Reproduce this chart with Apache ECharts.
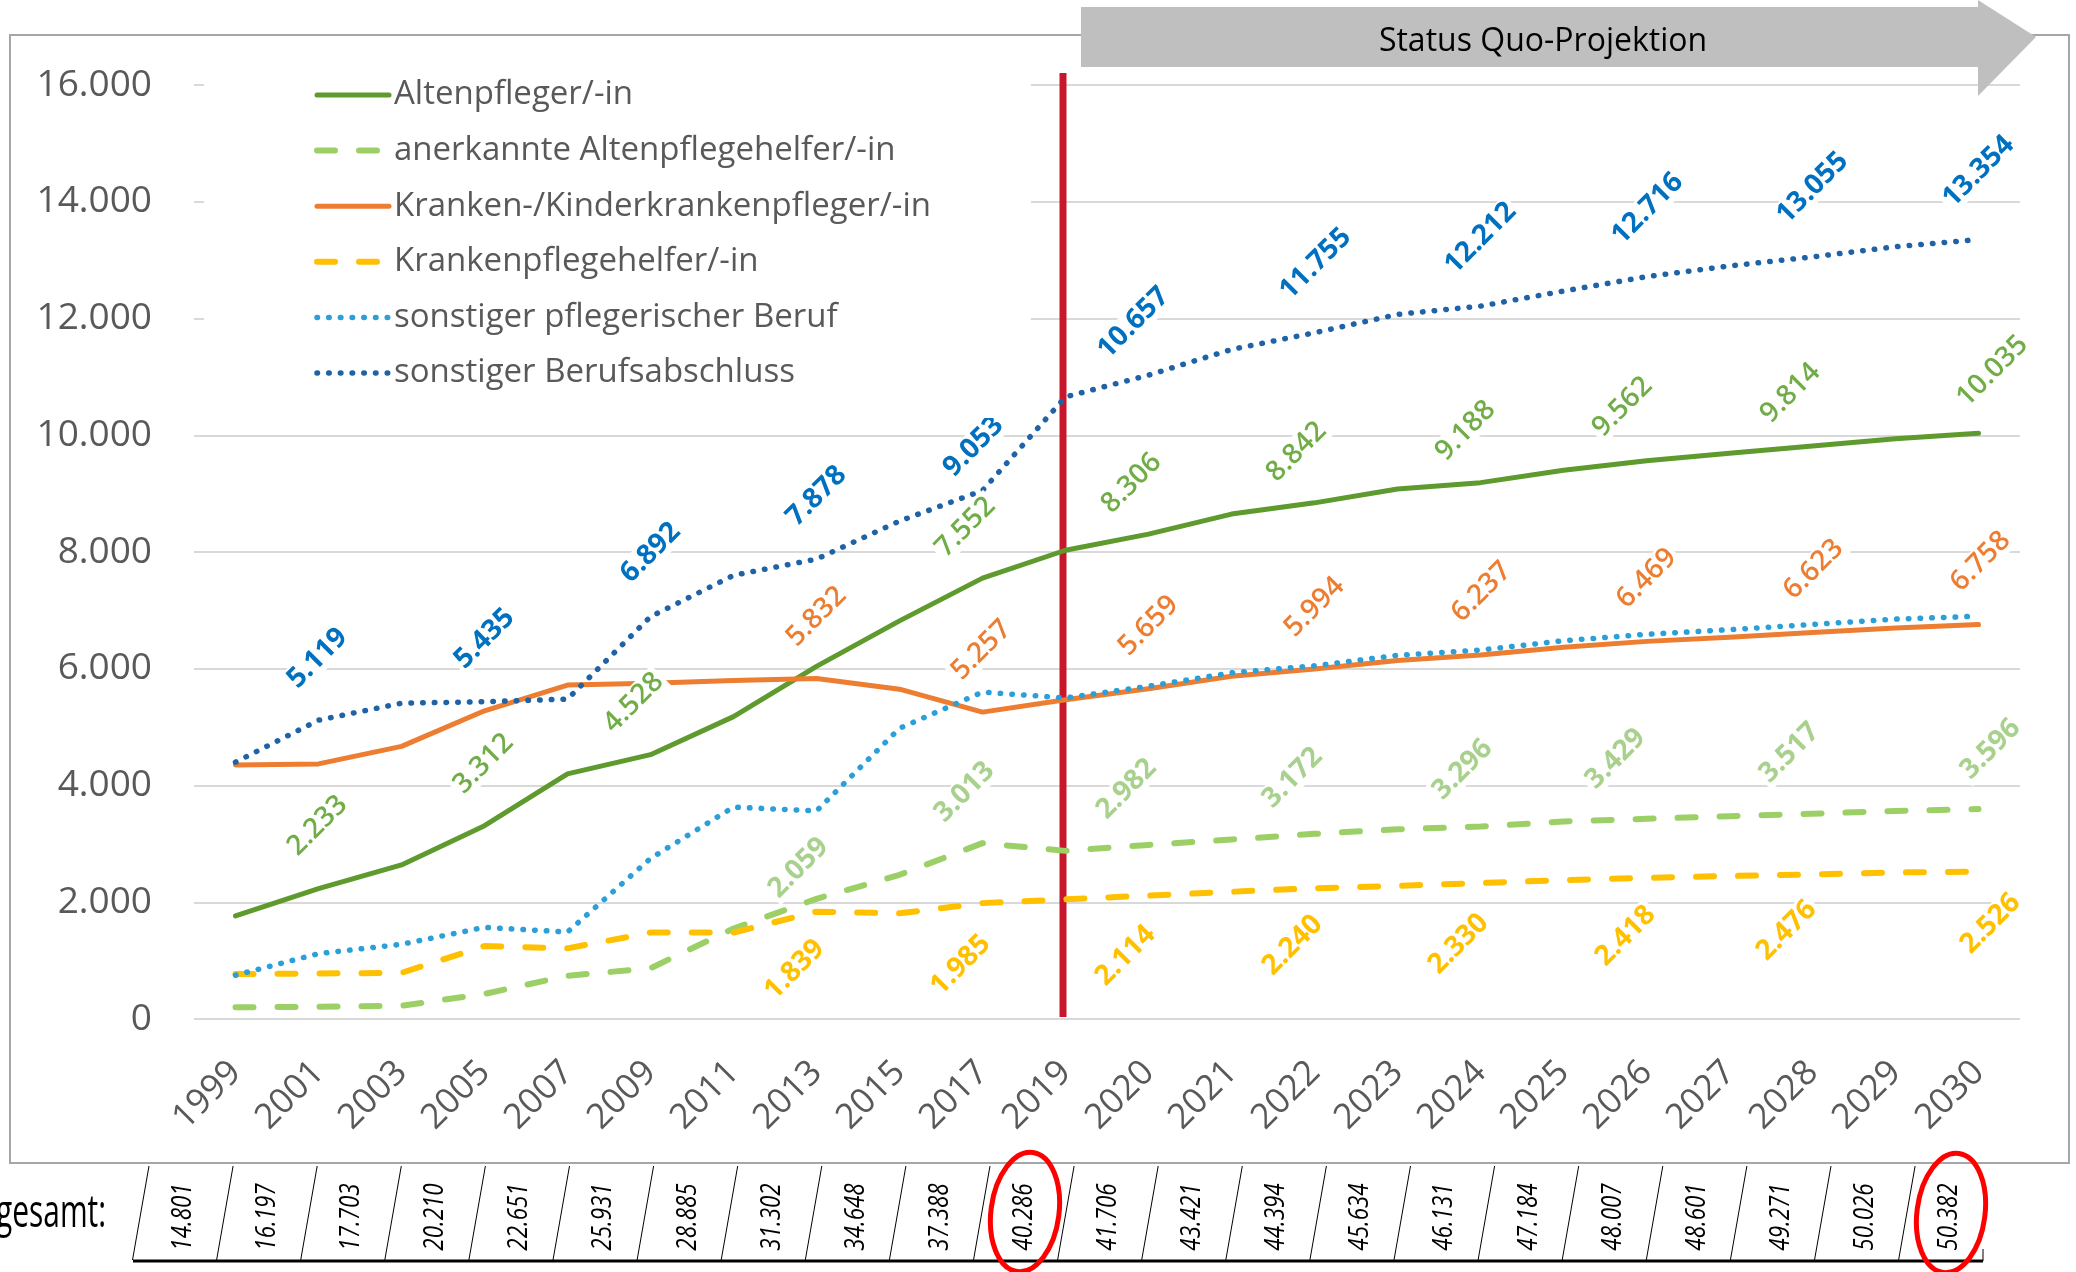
<!DOCTYPE html>
<html>
<head>
<meta charset="utf-8">
<script src="https://cdn.jsdelivr.net/npm/echarts@6/dist/echarts.min.js"></script>
<style>
  html, body { margin: 0; padding: 0; background: #fff; }
  #chart { width: 2076px; height: 1272px; }
</style>
</head>
<body>
<div id="chart"></div>
<script>
// Years on the category axis
const years = ['1999','2001','2003','2005','2007','2009','2011','2013','2015','2017','2019',
               '2020','2021','2022','2023','2024','2025','2026','2027','2028','2029','2030'];

// Employees by qualification
const altenpfleger = [1765, 2233, 2640, 3312, 4200, 4528, 5180, 6040, 6820, 7552, 8030,
                      8306, 8650, 8842, 9080, 9188, 9400, 9562, 9690, 9814, 9940, 10035];
const altenpflegehelfer = [200, 210, 225, 430, 740, 870, 1550, 2059, 2470, 3013, 2880,
                           2982, 3075, 3172, 3250, 3296, 3385, 3429, 3475, 3517, 3565, 3596];
const krankenpfleger = [4350, 4370, 4670, 5280, 5720, 5750, 5800, 5832, 5650, 5257, 5470,
                        5659, 5870, 5994, 6140, 6237, 6370, 6469, 6540, 6623, 6700, 6758];
const krankenpflegehelfer = [770, 780, 790, 1250, 1210, 1480, 1480, 1839, 1810, 1985, 2050,
                             2114, 2180, 2240, 2280, 2330, 2380, 2418, 2450, 2476, 2510, 2526];
const sonstigerPflegerisch = [750, 1120, 1280, 1570, 1490, 2750, 3630, 3565, 4980, 5600, 5500,
                              5700, 5930, 6050, 6230, 6320, 6480, 6590, 6670, 6760, 6850, 6900];
const sonstigerAbschluss = [4400, 5119, 5410, 5435, 5480, 6892, 7600, 7878, 8530, 9053, 10657,
                            11030, 11470, 11755, 12070, 12212, 12470, 12716, 12900, 13055, 13230, 13354];

// Total per year (row below the chart)
const gesamt = [14801, 16197, 17703, 20210, 22651, 25931, 28885, 31302, 34648, 37388, 40286,
                41706, 43421, 44394, 45634, 46131, 47184, 48007, 48601, 49271, 50026, 50382];

// Value axis ticks
const yMin = 0, yMax = 16000, yStep = 2000;

// Data label placement: year index -> [dx, dy] of the label centre from its point (px)
const labelPlacement = {
  altenpfleger: {1:[-1,-63], 3:[-1,-62], 5:[-17,-52], 9:[-17,-51], 11:[-17,-51], 13:[-18,-51],
                 15:[-15,-52], 17:[-24,-54], 19:[-22,-53], 21:[14,-62]},
  altenpflegehelfer: {7:[-18,-31], 9:[-18,-51], 11:[-22,-56], 13:[-22,-56], 15:[-18,-57],
                      17:[-31,-60], 19:[-23,-61], 21:[12,-60]},
  krankenpfleger: {7:[0,-62], 9:[-1,-62], 11:[0,-63], 13:[0,-62], 15:[1,-63], 17:[0,-63],
                   19:[1,-63], 21:[2,-63]},
  krankenpflegehelfer: {7:[-22,58], 9:[-22,62], 11:[-23,60], 13:[-22,57], 15:[-22,61],
                        17:[-21,58], 19:[-26,56], 21:[12,52]},
  sonstigerPflegerisch: {},
  sonstigerAbschluss: {1:[-1,-62], 3:[0,-63], 5:[0,-64], 7:[0,-63], 9:[-9,-44], 10:[68,-74],
                       13:[1,-69], 15:[0,-68], 17:[1,-68], 19:[0,-69], 21:[0,-68]}
};

const FONT = 'Open Sans';
const fmt = n => String(Math.round(n)).replace(/\B(?=(\d{3})+(?!\d))/g, '.');

const DOT = [0.5, 11.2];
const DASH = [18, 24];

const seriesDefs = [
  {name: 'Altenpfleger/-in', values: altenpfleger, key: 'altenpfleger',
   color: '#5E9A2E', width: 5, type: 'solid', labelColor: '#70AD47', weight: 600},
  {name: 'anerkannte Altenpflegehelfer/-in', values: altenpflegehelfer, key: 'altenpflegehelfer',
   color: '#9CD067', width: 6, type: DASH, labelColor: '#A9D18E', weight: 'bold'},
  {name: 'Kranken-/Kinderkrankenpfleger/-in', values: krankenpfleger, key: 'krankenpfleger',
   color: '#ED7D31', width: 5, type: 'solid', labelColor: '#ED7D31', weight: 600},
  {name: 'Krankenpflegehelfer/-in', values: krankenpflegehelfer, key: 'krankenpflegehelfer',
   color: '#FFC000', width: 6, type: DASH, labelColor: '#FFC000', weight: 'bold'},
  {name: 'sonstiger pflegerischer Beruf', values: sonstigerPflegerisch, key: 'sonstigerPflegerisch',
   color: '#2A9FD8', width: 5.5, type: DOT, labelColor: '#2A9FD8', weight: 'bold'},
  {name: 'sonstiger Berufsabschluss', values: sonstigerAbschluss, key: 'sonstigerAbschluss',
   color: '#1F63A6', width: 5.5, type: DOT, labelColor: '#0070C0', weight: 'bold'}
];

function buildSeries(d) {
  const place = labelPlacement[d.key];
  return {
    name: d.name,
    type: 'line',
    data: d.values.map((v, i) => {
      const p = place[i];
      // symbol is 2px wide: position [1,1] is its centre
      return p ? {value: v, label: {show: true, position: [1 + p[0], 1 + p[1]]}} : {value: v};
    }),
    symbol: 'circle',
    symbolSize: 2,
    showSymbol: true,
    showAllSymbol: true,
    itemStyle: {color: 'rgba(0,0,0,0)', borderWidth: 0},
    lineStyle: {color: d.color, width: d.width, type: d.type, cap: 'round', join: 'round'},
    label: {
      show: false, rotate: 45, align: 'center', verticalAlign: 'middle',
      color: d.labelColor, fontSize: 28, fontWeight: d.weight, fontFamily: FONT,
      backgroundColor: '#fff', padding: [0, 3],
      formatter: p => fmt(p.value)
    },
    emphasis: {disabled: true},
    z: 2
  };
}

const chart = echarts.init(document.getElementById('chart'), null, {renderer: 'canvas'});

const option = {
  animation: false,
  backgroundColor: '#fff',
  textStyle: {fontFamily: FONT},
  grid: {left: 194, right: 56, top: 85, bottom: 253, containLabel: false},
  legend: {
    orient: 'vertical', left: 204, top: 60,
    padding: [15, 100, 25, 110],
    backgroundColor: '#fff',
    itemWidth: 72, itemHeight: 14, itemGap: 15.6,
    selectedMode: false,
    textStyle: {fontSize: 33, color: '#595959', fontFamily: FONT, lineHeight: 40},
    data: seriesDefs.map(d => ({
      name: d.name,
      itemStyle: {color: 'rgba(0,0,0,0)', borderWidth: 0},
      lineStyle: {color: d.color, width: d.width, type: d.type, cap: 'round'}
    }))
  },
  xAxis: {
    type: 'category', data: years, boundaryGap: true,
    axisLine: {show: false}, axisTick: {show: false},
    axisLabel: {rotate: 45, margin: 48, interval: 0, fontSize: 35, color: '#595959', fontFamily: FONT}
  },
  yAxis: {
    type: 'value', min: yMin, max: yMax, interval: yStep,
    axisLine: {show: false}, axisTick: {show: false},
    axisLabel: {margin: 42, fontSize: 37, color: '#595959', fontFamily: FONT, formatter: v => fmt(v)},
    splitLine: {lineStyle: {color: '#D9D9D9', width: 2}}
  },
  series: seriesDefs.map(buildSeries)
};

chart.setOption(option);

// Frame, projection arrow, separator line and the totals row
const x2019 = chart.convertToPixel({xAxisIndex: 0}, '2019');
const graphics = [];

graphics.push({
  type: 'rect', z: 0, silent: true,
  shape: {x: 10, y: 35, width: 2059, height: 1128},
  style: {fill: 'none', stroke: '#A6A6A6', lineWidth: 2}
});

graphics.push({
  type: 'polygon', z: 5, silent: true,
  shape: {points: [[1081, 7], [1978, 7], [1978, 0], [2036, 37], [1978, 96], [1978, 67], [1081, 67]]},
  style: {fill: '#BFBFBF'}
});
graphics.push({
  type: 'text', z: 6, silent: true, x: 1543, y: 42,
  style: {text: 'Status Quo-Projektion', font: '32px "Open Sans"', fill: '#000',
          align: 'center', verticalAlign: 'middle', textAlign: 'center', textVerticalAlign: 'middle'}
});

graphics.push({
  type: 'line', z: 1, silent: true,
  shape: {x1: x2019 - 2.5, y1: 73, x2: x2019 - 2.5, y2: 1017},
  style: {stroke: '#C8172A', lineWidth: 7}
});

// Totals row
graphics.push({
  type: 'text', z: 6, silent: true, x: -4, y: 1214, scaleX: 0.65,
  style: {text: 'gesamt:', font: '46px "Open Sans"', fill: '#000',
          align: 'left', verticalAlign: 'middle', textAlign: 'left', textVerticalAlign: 'middle'}
});
const cellLeft = 149, cellStep = 84.1, cellSlant = 16.5, rowTop = 1166, rowBottom = 1260;
gesamt.forEach((v, k) => {
  const xt = cellLeft + cellStep * k;
  graphics.push({
    type: 'line', z: 6, silent: true,
    shape: {x1: xt, y1: rowTop, x2: xt - cellSlant, y2: rowBottom},
    style: {stroke: '#000', lineWidth: 1}
  });
  graphics.push({
    type: 'text', z: 6, silent: true,
    x: xt + 34, y: 1217, rotation: Math.PI / 2, scaleX: 0.8,
    style: {text: fmt(v), font: 'italic 28px "Open Sans"', fill: '#000',
            align: 'center', verticalAlign: 'middle', textAlign: 'center', textVerticalAlign: 'middle'}
  });
});
graphics.push({
  type: 'line', z: 6, silent: true,
  shape: {x1: 133, y1: 1261, x2: 1983, y2: 1261},
  style: {stroke: '#000', lineWidth: 3}
});
graphics.push({
  type: 'line', z: 6, silent: true,
  shape: {x1: 1983, y1: 1249, x2: 1983, y2: 1261},
  style: {stroke: '#000', lineWidth: 1}
});

// Highlight rings around 2019 and 2030 totals
[[1025, 1212], [1951, 1213]].forEach(c => {
  graphics.push({
    type: 'ellipse', z: 10, silent: true, x: c[0], y: c[1], rotation: -0.13,
    shape: {cx: 0, cy: 0, rx: 34, ry: 60},
    style: {fill: 'none', stroke: '#FF0000', lineWidth: 5}
  });
});

chart.setOption({graphic: graphics});
</script>
</body>
</html>
